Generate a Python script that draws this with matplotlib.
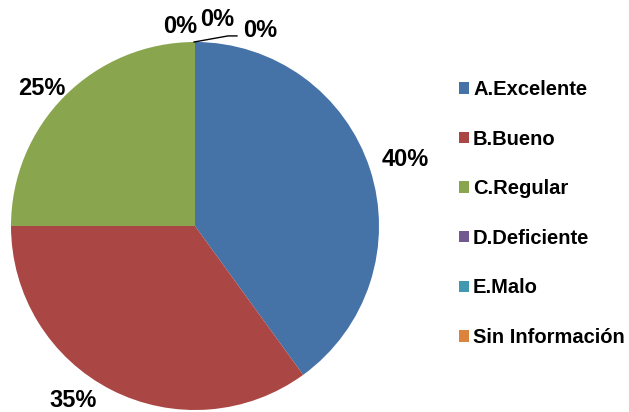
import matplotlib
matplotlib.use("Agg")
import matplotlib.pyplot as plt

categories = ["A.Excelente", "B.Bueno", "C.Regular", "D.Deficiente", "E.Malo", "Sin Información"]
values = [40, 35, 25, 0, 0, 0]
colors = ["#4572A7", "#AA4643", "#89A54E", "#71588F", "#4198AF", "#DB843D"]

plt.rcParams['font.family'] = ['Liberation Sans', 'DejaVu Sans']

W, H = 629, 412
fig = plt.figure(figsize=(W / 100, H / 100), dpi=100)
cx, cy, r = 195, 226, 184
ax = fig.add_axes([(cx - r) / W, (H - cy - r) / H, 2 * r / W, 2 * r / H])

wedges, _ = ax.pie(values, colors=colors, startangle=90, counterclock=False,
                   radius=1.0, wedgeprops=dict(linewidth=0))
ax.set_xlim(-1, 1)
ax.set_ylim(-1, 1)
ax.set_aspect('equal')
ax.axis('off')

# label positions (Excel placement)
label_pos = [(1.141, 0.359), (-0.663, -0.951), (-0.832, 0.747),
             (-0.082, 1.084), (0.12, 1.12), (0.353, 1.065)]
total = sum(values)
for v, (x, y) in zip(values, label_pos):
    ax.text(x, y, f"{round(100 * v / total)}%", ha='center', va='center',
            fontsize=17, fontweight='bold', clip_on=False)

# leader line for last 0% label
ax.plot([-0.005, 0.179, 0.228], [1.0, 1.033, 1.033], color='black', lw=1.0, clip_on=False)

leg = fig.legend(wedges, categories, loc='center left',
                 bbox_to_anchor=(459 / W, 1 - 213.5 / H), frameon=False,
                 prop=dict(family='Liberation Sans', weight='bold', size=14.5),
                 handlelength=0.5, handleheight=0.5, handletextpad=0.2,
                 labelspacing=1.52, borderpad=0, borderaxespad=0)

fig.savefig("out.png", dpi=100)
